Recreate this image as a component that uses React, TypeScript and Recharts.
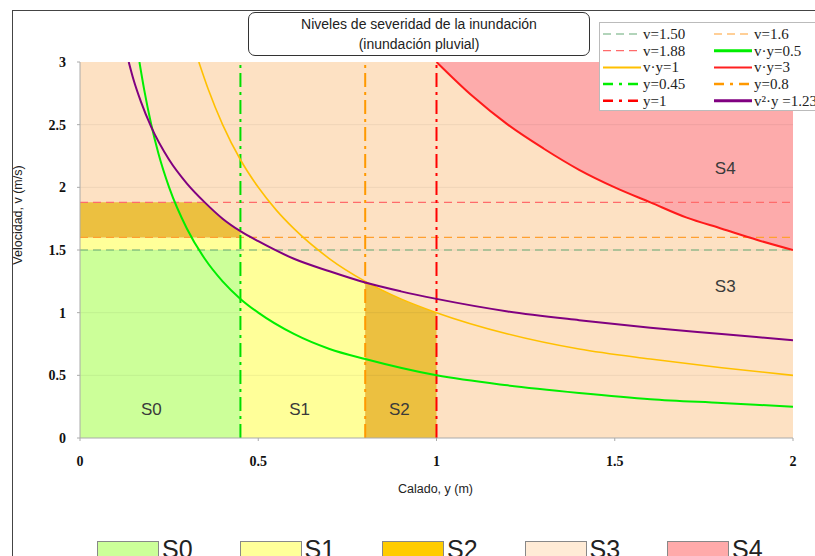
import { ComposedChart, Area, Line, Scatter, XAxis, YAxis } from 'recharts';

// ticks
const xTicks = [0, 0.5, 1, 1.5, 2];
const yTicks = [0, 0.5, 1, 1.5, 2, 2.5, 3];

// curves (depth y in m, velocity v in m/s)
const depthVy05 = [0.1667, 0.18, 0.2, 0.22, 0.25, 0.3, 0.35, 0.4, 0.45, 0.5, 0.6, 0.7, 0.8, 1.0, 1.2, 1.4, 1.6, 1.8, 2.0];
const velVy05 = [3, 2.78, 2.5, 2.27, 2.0, 1.67, 1.43, 1.25, 1.11, 1.0, 0.83, 0.71, 0.63, 0.5, 0.42, 0.36, 0.31, 0.28, 0.25];

const depthVy1 = [0.3333, 0.36, 0.4, 0.45, 0.5, 0.55, 0.6, 0.7, 0.8, 0.9, 1.0, 1.2, 1.4, 1.6, 1.8, 2.0];
const velVy1 = [3, 2.78, 2.5, 2.22, 2.0, 1.82, 1.67, 1.43, 1.25, 1.11, 1.0, 0.83, 0.71, 0.63, 0.56, 0.5];

const depthVy3 = [1.0, 1.1, 1.2, 1.3, 1.4, 1.5, 1.6, 1.7, 1.8, 1.9, 2.0];
const velVy3 = [3, 2.73, 2.5, 2.31, 2.14, 2.0, 1.88, 1.76, 1.67, 1.58, 1.5];

const depthV2y = [0.1367, 0.15, 0.17, 0.2, 0.25, 0.3, 0.35, 0.4, 0.45, 0.5, 0.6, 0.7, 0.8, 0.9, 1.0, 1.2, 1.4, 1.6, 1.8, 2.0];
const velV2y = [3, 2.86, 2.69, 2.48, 2.22, 2.03, 1.88, 1.75, 1.65, 1.57, 1.43, 1.33, 1.24, 1.17, 1.11, 1.01, 0.94, 0.88, 0.83, 0.78];

// severity zones: depth, lower and upper velocity
const s3Depth = [0, 2];
const s3Low = [0, 0];
const s3High = [3, 3];

const s4Depth = depthVy3;
const s4Low = velVy3;
const s4High = [3, 3, 3, 3, 3, 3, 3, 3, 3, 3, 3];

const s0Depth = [0, 0.45];
const s0Low = [0, 0];
const s0High = [1.5, 1.5];

const s1StripDepth = [0, 0.45];
const s1StripLow = [1.5, 1.5];
const s1StripHigh = [1.6, 1.6];

const s1Depth = [0.45, 0.5, 0.6, 0.7, 0.8];
const s1Low = [0, 0, 0, 0, 0];
const s1High = [1.65, 1.57, 1.43, 1.33, 1.24];

const s2BandDepth = [0, 0.348, 0.375, 0.4, 0.425, 0.45];
const s2BandLow = [1.6, 1.6, 1.6, 1.6, 1.6, 1.6];
const s2BandHigh = [1.88, 1.88, 1.81, 1.75, 1.70, 1.65];

const s2Depth = [0.8, 0.9, 1.0];
const s2Low = [0, 0, 0];
const s2High = [1.25, 1.11, 1.0];

// threshold lines
const hLevels = [1.5, 1.6, 1.88];
const vLevels = [0.45, 0.8, 1];

const zoneLabels = ['S0', 'S1', 'S2', 'S3', 'S4'];
const zoneLabelDepth = [0.2, 0.616, 0.896, 1.81, 1.81];
const zoneLabelVel = [0.22, 0.22, 0.22, 1.2, 2.14];

const zoneColors = ['#ccff99', '#ffff99', '#ecc040', '#fde1c3', '#fdabab'];
const swatchColors = ['#ccff99', '#ffff99', '#ffcc00', '#ffebd6', '#ffaaaa'];

const hColors = ['#66aa77', '#ffa030', '#ff6b6b'];
const vColors = ['#00dd00', '#ff9900', '#ff0000'];

const band = (d: number[], lo: number[], hi: number[]) => d.map((x, i) => ({ d: x, r: [lo[i], hi[i]] }));
const curve = (d: number[], v: number[]) => d.map((x, i) => ({ d: x, v: v[i] }));

const tickStyle = { fontFamily: 'Liberation Serif, serif', fontWeight: 700, fontSize: 14, fill: '#111' };
const DASH = '8 5';
const DASHDOT = '14 5 3 5';

const legendItems = [
  { t: 'v=1.50', c: '#66aa77', w: 1.2, dash: DASH },
  { t: 'v=1.6', c: '#ffa030', w: 1.2, dash: DASH },
  { t: 'v=1.88', c: '#ff6b6b', w: 1.2, dash: DASH },
  { t: 'v·y=0.5', c: '#00ee00', w: 3, dash: undefined },
  { t: 'v·y=1', c: '#ffc000', w: 2, dash: undefined },
  { t: 'v·y=3', c: '#ff2020', w: 2, dash: undefined },
  { t: 'y=0.45', c: '#00ee00', w: 2.5, dash: '10 6 3 6' },
  { t: 'y=0.8', c: '#ff9900', w: 2.5, dash: '10 6 3 6' },
  { t: 'y=1', c: '#ff0000', w: 2.5, dash: '10 6 3 6' },
  { t: 'v²·y =1.23', c: '#800080', w: 3, dash: undefined },
];

const ZoneText = (p: any) => (
  <text x={p.cx} y={p.cy} textAnchor="middle" dominantBaseline="middle"
    style={{ fontFamily: 'Liberation Sans, Arial, sans-serif', fontSize: 17, fill: '#3a3a3a' }}>
    {p.payload.name}
  </text>
);

export default function App() {
  const zoneAreas = [
    band(s3Depth, s3Low, s3High),
    band(s4Depth, s4Low, s4High),
    band(s0Depth, s0Low, s0High),
    band(s1StripDepth, s1StripLow, s1StripHigh),
    band(s1Depth, s1Low, s1High),
    band(s2BandDepth, s2BandLow, s2BandHigh),
    band(s2Depth, s2Low, s2High),
  ];
  const areaFill = [zoneColors[3], zoneColors[4], zoneColors[0], zoneColors[1], zoneColors[1], zoneColors[2], zoneColors[2]];
  const areaType = ['linear', 'monotone', 'linear', 'linear', 'monotone', 'linear', 'monotone'];
  const labels = zoneLabels.map((n, i) => ({ d: zoneLabelDepth[i], v: zoneLabelVel[i], name: n }));

  return (
    <div style={{ position: 'fixed', left: 0, top: 0, width: 815, height: 556, overflow: 'hidden', background: '#fff' }}>
      <div style={{ position: 'absolute', left: 12, top: 10, right: -2, bottom: -2, borderTop: '1px solid #444', borderLeft: '1px solid #444' }} />
      <div style={{ position: 'absolute', left: 0, top: 0 }}>
        <ComposedChart width={815} height={556} margin={{ top: 62, right: 22, left: 40, bottom: 78 }}>
          <XAxis xAxisId="b" dataKey="d" type="number" domain={[0, 2]} ticks={xTicks} allowDataOverflow
            height={40} tick={tickStyle} tickSize={3} tickMargin={15} stroke="#aaa"
            tickFormatter={(v: number) => String(v)} />
          <XAxis xAxisId="t" orientation="top" dataKey="d" type="number" domain={[0, 2]} ticks={xTicks}
            height={0} tick={false} tickLine={false} stroke="#bbb" allowDataOverflow />
          <YAxis yAxisId="l" type="number" domain={[0, 3]} ticks={yTicks} allowDataOverflow
            width={40} tick={tickStyle} tickSize={3} tickMargin={11} stroke="#aaa"
            tickFormatter={(v: number) => String(v)} />
          <YAxis yAxisId="r" orientation="right" type="number" domain={[0, 3]} ticks={yTicks}
            width={0} tick={false} tickLine={false} stroke="#bbb" allowDataOverflow />

          {zoneAreas.map((data, i) => (
            <Area key={'z' + i} xAxisId="b" yAxisId="l" data={data} dataKey="r" type={areaType[i] as any}
              fill={areaFill[i]} fillOpacity={1} stroke="none" isAnimationActive={false} />
          ))}

          {yTicks.slice(1, -1).map((t) => (
            <Line key={'g' + t} xAxisId="b" yAxisId="l" data={curve([0, 2], [t, t])} dataKey="v"
              stroke="#000" strokeOpacity={0.06} strokeWidth={1} dot={false} activeDot={false} isAnimationActive={false} />
          ))}

          {hLevels.map((h, i) => (
            <Line key={'h' + i} xAxisId="b" yAxisId="l" data={curve([0, 2], [h, h])} dataKey="v"
              stroke={hColors[i]} strokeWidth={1.2} strokeDasharray={DASH} dot={false} activeDot={false} isAnimationActive={false} />
          ))}
          {vLevels.map((x, i) => (
            <Line key={'v' + i} xAxisId="b" yAxisId="l" data={curve([x, x], [0, 3])} dataKey="v"
              stroke={vColors[i]} strokeWidth={2} strokeDasharray={DASHDOT} dot={false} activeDot={false} isAnimationActive={false} />
          ))}

          <Line xAxisId="b" yAxisId="l" data={curve(depthVy05, velVy05)} dataKey="v" type="monotone"
            stroke="#00ee00" strokeWidth={2} dot={false} activeDot={false} isAnimationActive={false} />
          <Line xAxisId="b" yAxisId="l" data={curve(depthVy1, velVy1)} dataKey="v" type="monotone"
            stroke="#ffc000" strokeWidth={1.6} dot={false} activeDot={false} isAnimationActive={false} />
          <Line xAxisId="b" yAxisId="l" data={curve(depthVy3, velVy3)} dataKey="v" type="monotone"
            stroke="#ff1a1a" strokeWidth={2} dot={false} activeDot={false} isAnimationActive={false} />
          <Line xAxisId="b" yAxisId="l" data={curve(depthV2y, velV2y)} dataKey="v" type="monotone"
            stroke="#800080" strokeWidth={2} dot={false} activeDot={false} isAnimationActive={false} />

          <Scatter xAxisId="b" yAxisId="l" data={labels} dataKey="v" shape={ZoneText} isAnimationActive={false} />
        </ComposedChart>
      </div>

      {/* title box */}
      <div style={{
        position: 'absolute', left: 248, top: 12, width: 340, height: 41, border: '1.5px solid #333', borderRadius: 7,
        background: '#fff', textAlign: 'center', fontFamily: 'Liberation Sans, Arial, sans-serif', fontSize: 14,
        lineHeight: '20px', color: '#222', paddingTop: 1,
      }}>
        Niveles de severidad de la inundación<br />(inundación pluvial)
      </div>

      {/* line legend */}
      <div style={{ position: 'absolute', left: 599, top: 22, width: 240, height: 87, border: '1px solid #bbb', background: '#fff' }}>
        <svg width={240} height={87}>
          {legendItems.map((it, i) => {
            const col = i % 2;
            const row = Math.floor(i / 2);
            const x0 = col === 0 ? 3 : 114;
            const y = 11 + row * 16.7;
            return (
              <g key={it.t}>
                <line x1={x0} x2={x0 + 38} y1={y} y2={y} stroke={it.c} strokeWidth={it.w} strokeDasharray={it.dash} />
                <text x={x0 + 40} y={y + 5} style={{ fontFamily: 'Liberation Serif, serif', fontSize: 15, fill: '#222' }}>{it.t}</text>
              </g>
            );
          })}
        </svg>
      </div>

      {/* axis titles */}
      <div style={{ position: 'absolute', left: 0, width: 815, top: 482, textAlign: 'center', paddingLeft: 56, boxSizing: 'border-box',
        fontFamily: 'Liberation Sans, Arial, sans-serif', fontSize: 12.5, color: '#222' }}>
        Calado, y (m)
      </div>
      <div style={{ position: 'absolute', left: 18, top: 215, transform: 'translate(-50%, -50%) rotate(-90deg)', whiteSpace: 'nowrap',
        fontFamily: 'Liberation Sans, Arial, sans-serif', fontSize: 12.5, color: '#222' }}>
        Velocidad, v (m/s)
      </div>

      {/* zone legend */}
      {zoneLabels.map((n, i) => (
        <div key={n} style={{ position: 'absolute', left: 97 + i * 142.5, top: 541, display: 'flex', alignItems: 'flex-start' }}>
          <div style={{ width: 62, height: 20, background: swatchColors[i], border: '1px solid #888', boxSizing: 'border-box' }} />
          <div style={{ marginLeft: 3, marginTop: -6, fontFamily: 'Liberation Sans, Arial, sans-serif', fontSize: 25, color: '#222', lineHeight: '28px' }}>{n}</div>
        </div>
      ))}
    </div>
  );
}
